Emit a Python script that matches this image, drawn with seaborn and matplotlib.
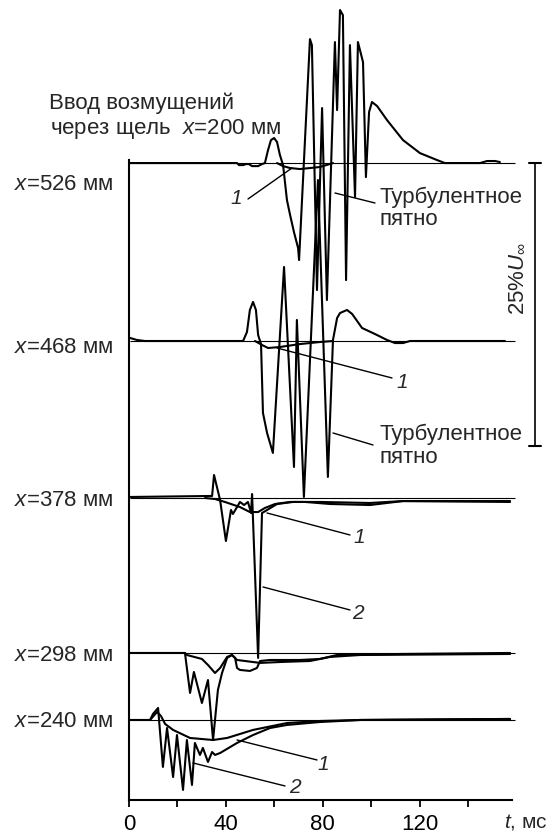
import matplotlib
matplotlib.use("Agg")
import matplotlib.pyplot as plt
import numpy as np
import pandas as pd
import seaborn as sns

# ---------------- data (t in ms, u in % of U_inf, relative to each baseline) --------------
station_labels = ["526", "468", "378", "298", "240"]
station_offsets = [49.2, 33.48, 19.61, 5.92, 0.0]      # vertical shift of each record, %U_inf

# x = 526 mm, turbulent spot record
t526_spot = [0.4, 29.3, 44.6, 45.4, 47.1, 48.3, 49.5, 50.8, 53.3, 54.9, 56.1, 57.4, 58.6, 59.9,
             61.1, 62.3, 63.6, 65.2, 66.5, 68.1, 69.8, 70.2, 74.7, 75.5, 77.6, 79.7, 81.7, 85.0,
             85.9, 87.1, 88.3, 89.6, 91.2, 93.3, 94.5, 96.6, 97.8, 99.1, 100.3, 102.4, 106.5,
             113.1, 120.1, 127.1, 130.4, 144.9, 147.8, 151.1, 153.1]
u526_spot = [0.0, 0.0, 0.0, -0.18, -0.18, -0.09, -0.09, -0.27, -0.27, -0.09, 0.0, 1.15, 2.03, 2.21,
             1.86, 0.71, -0.18, -3.27, -4.59, -6.10, -7.51, -8.57, 10.95, 10.42, -11.22, 4.86,
             -12.10, 10.69, 4.68, 13.52, 13.07, -10.34, 10.42, -3.00, 10.69, 8.92, -1.24, 4.51,
             5.39, 5.04, 3.80, 2.03, 0.88, 0.27, 0.0, 0.0, 0.18, 0.18, 0.09]
# x = 526 mm, curve 1
t526_c1 = [61.1, 63.6, 66.5, 70.6, 78.8, 84.2]
u526_c1 = [0.0, -0.27, -0.44, -0.53, -0.35, 0.0]

# x = 468 mm, turbulent spot record
t468_spot = [0.4, 3.3, 6.6, 47.1, 48.7, 49.9, 51.2, 52.4, 53.3, 54.5, 55.3, 57.0, 59.4, 64.0,
             68.1, 69.3, 72.2, 78.0, 82.1, 84.2, 85.9, 87.1, 90.0, 92.1, 96.2, 101.5, 106.5,
             109.8, 113.1, 116.0, 155.2]
u468_spot = [0.27, 0.09, 0.0, 0.0, 0.80, 2.74, 3.45, 2.74, 0.53, -0.27, -6.36, -8.13, -9.89, 6.54,
             -11.13, 1.86, -13.78, 14.22, -12.01, 0.09, 2.03, 2.47, 2.74, 2.39, 1.15, 0.62, 0.09,
             -0.18, -0.18, 0.0, 0.0]
t468_c1 = [52.0, 54.9, 57.4, 62.3, 70.6, 78.8, 84.2]
u468_c1 = [0.0, -0.35, -0.62, -0.53, -0.27, -0.09, 0.0]

# x = 378 mm
t378_c2 = [0.4, 34.3, 35.1, 37.6, 40.0, 42.1, 42.9, 44.6, 45.8, 47.5, 49.1, 50.4, 50.8, 53.3,
           54.9, 57.0, 61.1, 67.7, 72.7, 83.0, 99.5, 113.1, 157.3]
u378_c2 = [0.09, 0.18, 2.03, -0.18, -3.80, -1.06, -1.41, -0.80, -0.35, -0.62, -0.35, -1.33, 0.35,
           -14.13, -1.33, -1.06, -0.53, -0.35, -0.35, -0.53, -0.62, -0.27, -0.35]
t378_c1 = [31.4, 35.5, 39.6, 45.8, 49.9, 53.3, 56.1, 60.3, 66.5, 78.8, 99.5, 113.1, 157.3]
u378_c1 = [0.0, -0.09, -0.35, -0.80, -1.24, -1.24, -0.88, -0.53, -0.35, -0.35, -0.44, -0.27, -0.27]

# x = 298 mm
t298_c2 = [0.4, 23.1, 25.2, 26.8, 30.1, 32.6, 34.7, 36.7, 38.4, 40.5, 42.5, 43.8, 44.6, 45.8,
           49.9, 52.8, 54.1, 58.2, 70.6, 78.8, 85.9, 111.9, 157.3]
u298_c2 = [0.0, 0.0, -3.53, -1.68, -4.42, -2.39, -7.69, -3.27, -1.77, -0.44, -0.18, -0.44, -1.33,
           -1.50, -1.59, -1.33, -0.71, -0.62, -0.62, -0.53, -0.18, -0.09, 0.0]
t298_c1 = [23.1, 23.9, 30.1, 32.6, 35.5, 37.6, 40.5, 42.5, 44.6, 54.1, 62.3, 74.7, 83.0, 95.4, 157.3]
u298_c1 = [0.0, -0.18, -0.53, -1.06, -1.77, -1.33, -0.35, -0.18, -0.62, -0.88, -0.80, -0.71,
           -0.35, -0.18, -0.09]

# x = 240 mm
t240_c2 = [0.4, 8.7, 9.9, 12.0, 14.0, 15.7, 18.2, 19.8, 22.3, 23.9, 26.0, 27.2, 29.3, 30.5, 32.6,
           34.3, 35.5, 37.6, 44.6, 51.2, 58.2, 65.2, 78.8, 95.4, 157.3]
u240_c2 = [0.0, 0.0, 0.53, 1.06, -4.15, -0.71, -5.04, -1.33, -6.18, -1.77, -5.74, -2.03, -3.09,
           -2.47, -3.71, -2.83, -3.09, -2.92, -2.03, -1.33, -0.71, -0.44, -0.18, 0.0, 0.09]
t240_c1 = [8.7, 11.6, 13.2, 14.9, 18.2, 25.2, 34.7, 40.5, 51.2, 65.2, 78.8, 95.4, 157.3]
u240_c1 = [0.0, 0.71, 0.35, -0.35, -0.88, -1.59, -1.77, -1.59, -0.88, -0.27, -0.09, 0.0, 0.09]

xticks = [0, 20, 40, 60, 80, 100, 120, 140]
xtick_labels = ["0", "", "40", "", "80", "", "120", ""]
scale_bar = 25  # %U_inf

# ---------------- assemble ----------------
records = [
    ("526", "spot", t526_spot, u526_spot), ("526", "1", t526_c1, u526_c1),
    ("468", "spot", t468_spot, u468_spot), ("468", "1", t468_c1, u468_c1),
    ("378", "2", t378_c2, u378_c2), ("378", "1", t378_c1, u378_c1),
    ("298", "2", t298_c2, u298_c2), ("298", "1", t298_c1, u298_c1),
    ("240", "2", t240_c2, u240_c2), ("240", "1", t240_c1, u240_c1),
]
offset_of = dict(zip(station_labels, station_offsets))
frames = []
for st, cv, tt, uu in records:
    frames.append(pd.DataFrame({"t": tt, "y": np.array(uu) + offset_of[st],
                                "station": st, "curve": cv}))
df = pd.concat(frames, ignore_index=True)

# ---------------- figure ----------------
sns.set_style("ticks")
plt.rcParams["font.family"] = ["Liberation Sans", "DejaVu Sans"]
plt.rcParams["mathtext.fontset"] = "custom"
plt.rcParams["mathtext.rm"] = "Liberation Sans"
plt.rcParams["mathtext.it"] = "Liberation Sans:italic"

W, H = 557, 835
fig = plt.figure(figsize=(W / 100, H / 100), dpi=100)
ax = fig.add_axes([129 / W, 35 / H, 383 / W, 640 / H])
ax.set_xlim(0, 158.1)
ax.set_ylim(-7.07, 49.47)

# baselines (thin reference lines)
ax.hlines(station_offsets, 0.4, 159.5, colors="black", lw=0.8, clip_on=False, zorder=2)

for (st, cv), sub in df.groupby(["station", "curve"], sort=False):
    sns.lineplot(data=sub, x="t", y="y", sort=False, estimator=None, color="black",
                 lw=1.5, ax=ax, clip_on=False, zorder=3)

fs = 16
ax.set_xlabel("")
ax.set_ylabel("")
ax.set_yticks([])
ax.set_xticks(xticks)
ax.set_xticklabels(xtick_labels, fontsize=fs)
ax.tick_params(axis="x", direction="out", length=5, width=1.3, pad=5, colors="black")
for s in ["top", "right"]:
    ax.spines[s].set_visible(False)
for s in ["left", "bottom"]:
    ax.spines[s].set_linewidth(1.5)
    ax.spines[s].set_color("black")

def px(x, y):
    return (x - 129) / 2.4225, (720 - y) / 11.32

ax.text(*px(548, 812), "$t$, мс", fontsize=15, ha="right", va="top", clip_on=False)

# station labels
label_py = [185, 348, 501, 656, 722]
for st, yy in zip(station_labels, label_py):
    ax.text(*px(113, yy), f"$x$={st} мм", fontsize=fs, ha="right", va="center", clip_on=False)

ax.text(*px(49, 103), "Ввод возмущений", fontsize=fs, ha="left", va="center", clip_on=False)
ax.text(*px(50, 129), "через щель  $x$=200 мм", fontsize=fs, ha="left", va="center",
        clip_on=False)

# turbulent spot labels
for y1, y2 in [(197, 220), (434, 458)]:
    ax.text(*px(379, y1), "Турбулентное", fontsize=fs, ha="left", va="center", clip_on=False)
    ax.text(*px(379, y2), "пятно", fontsize=fs, ha="left", va="center", clip_on=False)

leaders = [((335, 193), (375, 203)), ((333, 433), (373, 445)),
           ((292, 168), (248, 199)), ((277, 348), (392, 378)),
           ((267, 513), (350, 535)), ((263, 587), (350, 610)),
           ((237, 740), (317, 760)), ((193, 763), (285, 786))]
for a, b in leaders:
    (x1, y1), (x2, y2) = px(*a), px(*b)
    ax.plot([x1, x2], [y1, y2], color="black", lw=1.0, clip_on=False)

nums = [((236, 199), "1"), ((402, 383), "1"), ((359, 538), "1"), ((358, 614), "2"),
        ((323, 765), "1"), ((295, 788), "2")]
for (xx, yy), s in nums:
    ax.text(*px(xx, yy), s, fontsize=15, style="italic", ha="center", va="center",
            clip_on=False)

# scale bar 25 % U_inf
xb, _ = px(535, 0)
xc1, _ = px(529, 0)
xc2, _ = px(541, 0)
top = station_offsets[0]
bot = top - scale_bar
ax.plot([xb, xb], [bot, top], color="black", lw=1.2, clip_on=False)
ax.plot([xc1, xc2], [top, top], color="black", lw=1.5, clip_on=False)
ax.plot([xc1, xc2], [bot, bot], color="black", lw=1.5, clip_on=False)
ax.text(*px(517, 278), "25%$U_{\\infty}$", fontsize=fs, rotation=90, ha="center", va="center",
        clip_on=False)

fig.savefig("out.png", dpi=100)
